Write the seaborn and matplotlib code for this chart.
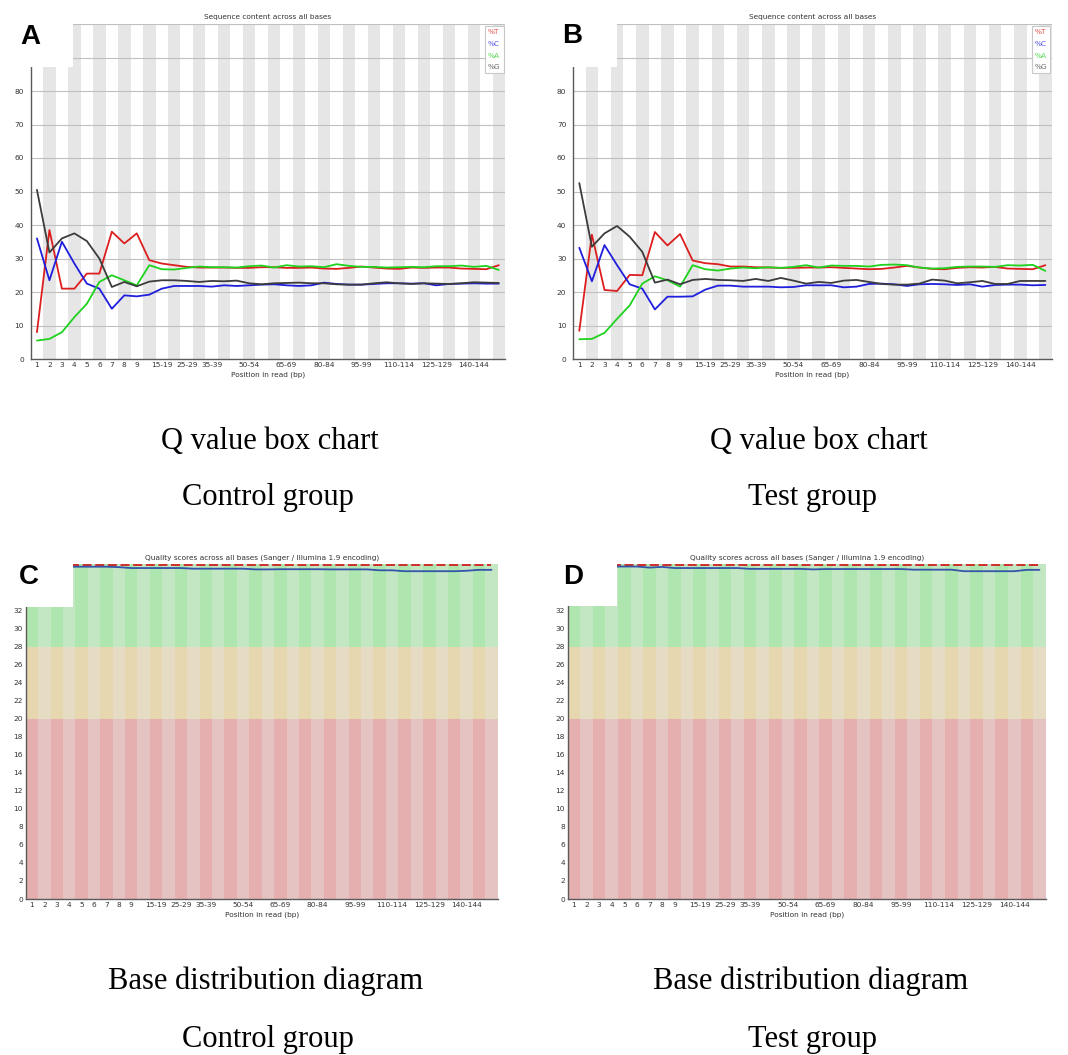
import matplotlib
matplotlib.use('Agg')
import matplotlib.pyplot as plt
from matplotlib.patches import Rectangle
import numpy as np
import pandas as pd
import seaborn as sns

# position bins (FastQC grouping) and which of them get a tick label
bins = ['1', '2', '3', '4', '5', '6', '7', '8', '9',
        '10-14', '15-19', '20-24', '25-29', '30-34', '35-39', '40-44', '45-49',
        '50-54', '55-59', '60-64', '65-69', '70-74', '75-79', '80-84', '85-89',
        '90-94', '95-99', '100-104', '105-109', '110-114', '115-119', '120-124',
        '125-129', '130-134', '135-139', '140-144', '145-149', '150']
shown = [1, 2, 3, 4, 5, 6, 7, 8, 9, 11, 13, 15, 18, 21, 24, 27, 30, 33, 36]

# per base sequence content, control group (%)
ctrl_T = [8.0, 38.5, 21.0, 21.0, 25.5, 25.5, 38.0, 34.5, 37.5, 29.5, 28.5, 28.0, 27.5, 27.3,
          27.3, 27.3, 27.2, 27.2, 27.4, 27.4, 27.2, 27.2, 27.3, 27.0, 26.9, 27.2, 27.6, 27.3,
          27.0, 26.9, 27.3, 27.2, 27.3, 27.3, 27.0, 26.9, 26.8, 28.0]
ctrl_C = [36.0, 23.5, 35.0, 28.5, 22.5, 21.0, 15.0, 19.0, 18.7, 19.2, 21.0, 21.8, 21.8, 21.8,
          21.6, 22.0, 21.8, 22.0, 22.2, 22.3, 22.0, 21.8, 22.0, 22.8, 22.4, 22.2, 22.2, 22.4,
          22.6, 22.6, 22.5, 22.6, 22.0, 22.4, 22.5, 22.6, 22.5, 22.5]
ctrl_A = [5.5, 6.0, 8.0, 12.5, 16.5, 23.0, 25.0, 23.5, 22.0, 28.0, 26.8, 26.7, 27.2, 27.6,
          27.4, 27.4, 27.3, 27.7, 27.9, 27.3, 28.0, 27.6, 27.7, 27.4, 28.3, 27.8, 27.5, 27.5,
          27.3, 27.4, 27.5, 27.4, 27.7, 27.7, 27.9, 27.5, 27.8, 26.6]
ctrl_G = [50.5, 31.8, 36.0, 37.5, 35.2, 30.0, 21.5, 23.0, 21.7, 23.1, 23.5, 23.5, 23.3, 23.0,
          23.3, 23.2, 23.4, 22.6, 22.3, 22.6, 22.7, 22.8, 22.6, 22.6, 22.3, 22.2, 22.2, 22.6,
          22.9, 22.6, 22.4, 22.6, 22.5, 22.4, 22.6, 22.9, 22.8, 22.7]

# per base sequence content, test group (%)
test_T = [8.4, 37.1, 20.6, 20.3, 25.1, 25.0, 37.9, 33.9, 37.3, 29.4, 28.6, 28.3, 27.6, 27.6,
          27.4, 27.3, 27.2, 27.2, 27.3, 27.3, 27.4, 27.2, 27.0, 26.8, 26.9, 27.3, 27.8, 27.3,
          26.9, 26.8, 27.2, 27.4, 27.3, 27.5, 27.0, 26.9, 26.8, 28.0]
test_C = [33.2, 23.2, 34.0, 28.0, 22.3, 21.0, 14.8, 18.6, 18.6, 18.7, 20.7, 21.9, 21.9, 21.6,
          21.6, 21.6, 21.4, 21.5, 22.0, 22.0, 22.0, 21.4, 21.6, 22.4, 22.5, 22.3, 21.8, 22.3,
          22.4, 22.3, 22.1, 22.3, 21.6, 22.1, 22.2, 22.2, 22.0, 22.1]
test_A = [5.9, 6.0, 7.8, 12.0, 16.0, 22.5, 24.7, 23.5, 21.6, 28.0, 26.8, 26.4, 27.0, 27.3,
          27.1, 27.4, 27.2, 27.5, 28.0, 27.3, 27.9, 27.8, 27.8, 27.6, 28.1, 28.2, 28.0, 27.3,
          27.0, 27.1, 27.5, 27.6, 27.6, 27.5, 28.0, 27.9, 28.1, 26.3]
test_G = [52.5, 33.5, 37.5, 39.7, 36.5, 32.0, 22.8, 23.7, 22.3, 23.6, 23.9, 23.6, 23.5, 23.3,
          23.9, 23.3, 24.2, 23.4, 22.5, 23.0, 22.7, 23.4, 23.6, 23.0, 22.4, 22.2, 22.2, 22.5,
          23.7, 23.4, 22.6, 22.9, 23.3, 22.4, 22.4, 23.3, 23.3, 23.3]

# per base quality: mean and median Phred score
ctrl_mean = [36.9, 36.9, 36.9, 36.9, 36.9, 36.9, 36.9, 36.85, 36.75, 36.75, 36.75, 36.75, 36.75,
             36.68, 36.68, 36.68, 36.68, 36.68, 36.6, 36.6, 36.62, 36.62, 36.62, 36.62, 36.6,
             36.6, 36.6, 36.6, 36.5, 36.5, 36.4, 36.4, 36.4, 36.4, 36.4, 36.45, 36.55, 36.55]
test_mean = [36.92, 36.92, 36.92, 36.92, 36.92, 36.92, 36.8, 36.88, 36.75, 36.75, 36.75, 36.75,
             36.75, 36.75, 36.66, 36.66, 36.66, 36.66, 36.66, 36.6, 36.64, 36.64, 36.64, 36.64,
             36.64, 36.64, 36.64, 36.57, 36.57, 36.57, 36.57, 36.4, 36.4, 36.4, 36.4, 36.4,
             36.55, 36.55]
ctrl_median = [37.1] * 38
test_median = [37.1] * 38

W, H = 1068, 1055
fig = plt.figure(figsize=(W / 100, H / 100), dpi=100)
sns.set_style('white')
plt.rcParams['font.family'] = ['DejaVu Sans']


def px(l, t, r, b):
    return [l / W, 1 - b / H, (r - l) / W, (b - t) / H]


def style_axes(ax, ypad):
    for s in ['top', 'right']:
        ax.spines[s].set_visible(False)
    for s in ['left', 'bottom']:
        ax.spines[s].set_color('#5a5a5a')
        ax.spines[s].set_linewidth(1.0)
        ax.spines[s].set_zorder(5)
    ax.set_xlim(0.5, len(bins) + 0.5)
    ax.set_xticks(shown)
    ax.set_xticklabels([bins[i - 1] for i in shown])
    ax.tick_params(axis='x', length=0, pad=2, labelsize=5.3, labelcolor='#333333')
    ax.tick_params(axis='y', length=0, pad=ypad, labelsize=5.3, labelcolor='#333333')
    ax.set_xlabel('Position in read (bp)', fontsize=5.3, color='#333333', labelpad=2.5)
    ax.set_ylabel('')


def content_panel(ax, T, C, A, G):
    xs = np.arange(1, len(bins) + 1)
    for i in xs:
        if i % 2 == 0:
            ax.axvspan(i - 0.5, i + 0.5, color='#e6e6e6', lw=0, zorder=0)
    for y in range(10, 101, 10):
        ax.axhline(y, color='#c0c0c0', lw=0.8, zorder=1)
    df = pd.DataFrame({
        'pos': np.tile(xs, 4),
        'base': np.repeat(['%T', '%C', '%A', '%G'], len(bins)),
        'pct': np.concatenate([T, C, A, G]),
    })
    pal = {'%T': '#dc1e1e', '%C': '#1e1edc', '%A': '#1ed21e', '%G': '#3c3c3c'}
    sns.lineplot(data=df, x='pos', y='pct', hue='base', palette=pal, lw=1.3,
                 ax=ax, zorder=3)
    ax.set_ylim(0, 100)
    # 90 and 100 sit under the white letter box, so only 0-80 are labelled
    ax.set_yticks(range(0, 81, 10))
    style_axes(ax, 4.8)
    ax.set_title('Sequence content across all bases', fontsize=5.3, color='#333333', pad=3.5)
    handles, labels = ax.get_legend_handles_labels()
    leg = ax.legend(handles, labels, loc='upper right', bbox_to_anchor=(0.997, 0.993),
                    borderaxespad=0, frameon=True, fancybox=False, edgecolor='#c8c8c8',
                    framealpha=1, handlelength=0, handletextpad=0, fontsize=5.3,
                    labelspacing=0.75, borderpad=0.4)
    leg.get_frame().set_linewidth(0.8)
    for txt, h in zip(leg.get_texts(), leg.legend_handles):
        txt.set_color(h.get_color())
        txt.set_alpha(0.75)
        h.set_visible(False)
    leg.set_zorder(6)


def quality_panel(ax, mean, median):
    xs = np.arange(1, len(bins) + 1)
    odd = xs % 2 == 1
    ax.bar(xs, 20, bottom=0, width=1, lw=0, zorder=0,
           color=np.where(odd, '#e6afaf', '#e6c3c3'))
    ax.bar(xs, 8, bottom=20, width=1, lw=0, zorder=0,
           color=np.where(odd, '#e6d7af', '#e6dcc3'))
    ax.bar(xs, 20, bottom=28, width=1, lw=0, zorder=0,
           color=np.where(odd, '#afe6af', '#c3e6c3'))
    df = pd.DataFrame({'pos': xs, 'mean': mean, 'median': median})
    sns.lineplot(data=df, x='pos', y='median', color='#d02020', lw=1.3, ax=ax, zorder=3)
    sns.lineplot(data=df, x='pos', y='mean', color='#3355aa', lw=1.3, ax=ax, zorder=4)
    ax.lines[0].set_dashes([5, 2])
    ax.lines[0].set_clip_on(False)
    ax.set_ylim(0, 37.2)
    ax.set_yticks(range(0, 33, 2))
    style_axes(ax, 2.0)
    ax.set_title('Quality scores across all bases (Sanger / Illumina 1.9 encoding)',
                 fontsize=5.3, color='#333333', pad=3.5)


axA = fig.add_axes(px(30.7, 24, 505, 359))
axB = fig.add_axes(px(573, 24, 1051.7, 359))
axC = fig.add_axes(px(25.7, 564, 497.7, 899))
axD = fig.add_axes(px(567.7, 564, 1045.7, 899))

content_panel(axA, ctrl_T, ctrl_C, ctrl_A, ctrl_G)
content_panel(axB, test_T, test_C, test_A, test_G)
quality_panel(axC, ctrl_mean, ctrl_median)
quality_panel(axD, test_mean, test_median)

# white label boxes with panel letters
letter_font = ['Liberation Sans', 'DejaVu Sans']
for (l, t, r, b), (lx, ly), letter in [((0, 0, 72.7, 66.7), (30, 37), 'A'),
                                      ((536, 0, 616.7, 66.7), (572, 36), 'B'),
                                      ((0, 544, 72.7, 606.7), (29, 577), 'C'),
                                      ((536, 544, 616.7, 606), (573, 577), 'D')]:
    fig.add_artist(Rectangle((l / W, 1 - b / H), (r - l) / W, (b - t) / H,
                             transform=fig.transFigure, facecolor='white',
                             edgecolor='none', zorder=20))
    fig.text(lx / W, 1 - ly / H, letter, fontsize=20, fontweight='bold', color='black',
             family=letter_font, ha='center', va='center', zorder=21)

# captions under each panel
serif = ['Liberation Serif', 'DejaVu Serif']
captions = [(270, 441.7, 'Q value box chart'), (268, 498, 'Control group'),
            (819, 441.7, 'Q value box chart'), (813, 498, 'Test group'),
            (266, 981.7, 'Base distribution diagram'), (268, 1040, 'Control group'),
            (811, 981.7, 'Base distribution diagram'), (813, 1040, 'Test group')]
for x, y, s in captions:
    fig.text(x / W, 1 - y / H, s, fontsize=22, family=serif, color='black',
             ha='center', va='center')

fig.savefig('out.png', dpi=100)
